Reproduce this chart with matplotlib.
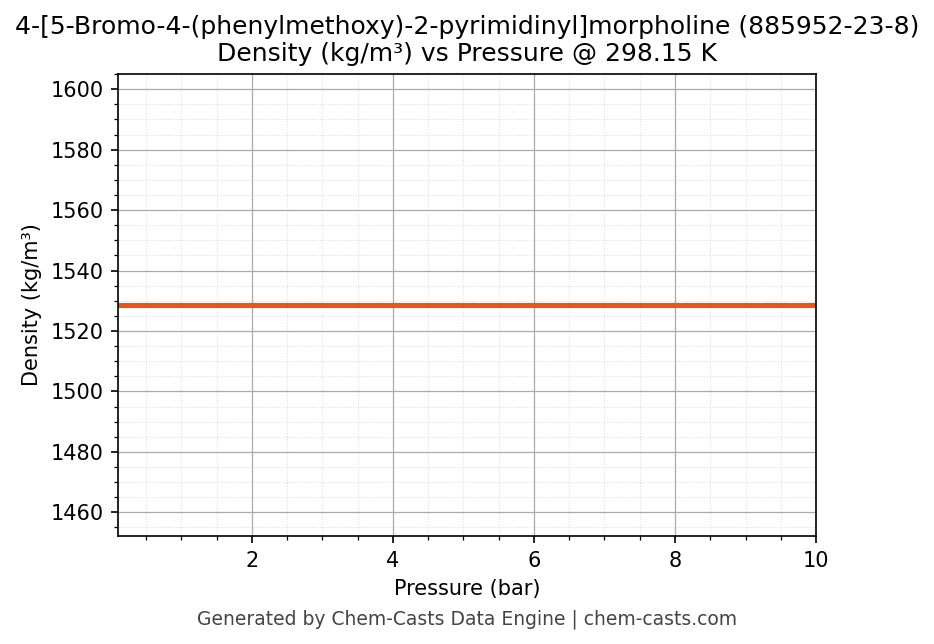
import matplotlib
matplotlib.use("Agg")
import matplotlib.pyplot as plt
from matplotlib.ticker import AutoMinorLocator

# data: density is flat across the pressure range
pressure = [0.1, 10.0]
density = [1528.6, 1528.6]

title = "4-[5-Bromo-4-(phenylmethoxy)-2-pyrimidinyl]morpholine (885952-23-8)\nDensity (kg/m³) vs Pressure @ 298.15 K"

fig = plt.figure(figsize=(934 / 150, 644 / 150), dpi=150)
ax = fig.add_axes([0.1263, 0.1677, 0.7474, 0.7174])

ax.plot(pressure, density, color="#df5a22", linewidth=2.5)

ax.set_xlim(0.1, 10)
mean = sum(density) / len(density)
ax.set_ylim(mean * 0.95, mean * 1.05)

ax.xaxis.set_minor_locator(AutoMinorLocator(4))
ax.yaxis.set_minor_locator(AutoMinorLocator(4))
ax.grid(which="major", color="#aaaaaa", linewidth=0.6)
ax.grid(which="minor", color="#dddddd", linewidth=0.5, linestyle=":")

ax.set_xlabel("Pressure (bar)")
ax.set_ylabel("Density (kg/m³)")
ax.set_title(title, fontsize=12)

fig.text(0.5, 0.039, "Generated by Chem-Casts Data Engine | chem-casts.com",
         ha="center", va="center", fontsize=9, color="#444444")

fig.savefig("out.png", dpi=150)
